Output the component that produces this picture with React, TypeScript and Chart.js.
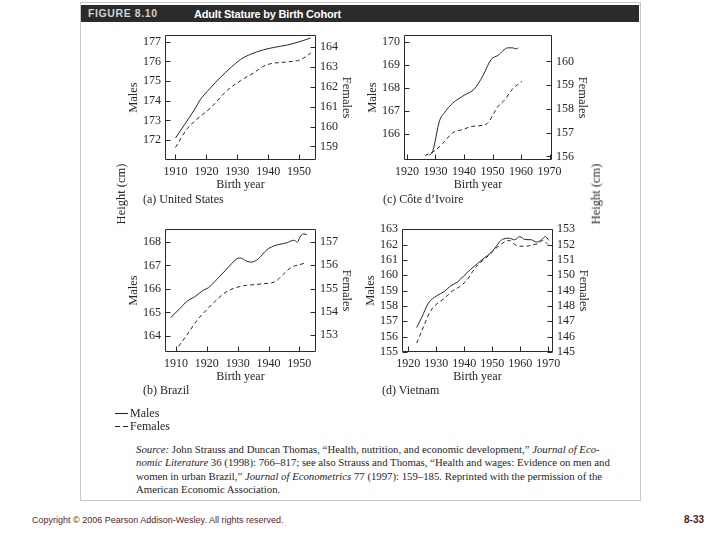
import React, { useEffect, useRef } from 'react';
import { Chart, registerables } from 'chart.js';

Chart.register(...registerables);

// ---------------- Data ----------------
// (a) United States
const US_MALE_YEARS = [1910, 1913, 1916.5, 1918, 1921, 1924.6, 1928, 1931, 1934, 1938.6, 1942, 1946.2, 1950, 1953.8];
const US_MALE_HEIGHT = [172.1, 172.8, 173.64, 174.05, 174.6, 175.2, 175.7, 176.1, 176.35, 176.6, 176.72, 176.84, 177.0, 177.2];
const US_FEMALE_YEARS = [1910, 1913.8, 1917, 1921.4, 1926.8, 1931.1, 1935.4, 1938.6, 1940.8, 1946.2, 1950.5, 1953.8];
const US_FEMALE_HEIGHT = [158.95, 159.89, 160.37, 160.94, 161.82, 162.3, 162.7, 163.03, 163.15, 163.24, 163.35, 163.68];

// (b) Brazil
const BR_MALE_YEARS = [1908.3, 1911.3, 1913.5, 1916.2, 1918.9, 1920.5, 1923.2, 1926.4, 1929.7, 1930.8, 1932.9, 1934.5, 1936.7, 1939.4, 1941.6, 1943.7, 1945.9, 1948.1, 1949.4, 1950.2, 1951.3, 1952.4];
const BR_MALE_HEIGHT = [164.79, 165.17, 165.47, 165.68, 165.95, 166.05, 166.4, 166.84, 167.28, 167.32, 167.18, 167.14, 167.28, 167.66, 167.82, 167.9, 167.96, 168.07, 168.0, 168.2, 168.34, 168.31];
const BR_FEMALE_YEARS = [1910.8, 1913.5, 1916.7, 1920, 1923.2, 1925.9, 1929.1, 1932.9, 1935.6, 1938.3, 1941.0, 1942.6, 1944.8, 1947.5, 1950.2, 1952.4];
const BR_FEMALE_HEIGHT = [152.52, 153.0, 153.62, 154.1, 154.52, 154.83, 155.03, 155.14, 155.17, 155.21, 155.25, 155.34, 155.62, 155.92, 156.03, 156.13];

// (c) Côte d'Ivoire
const CI_MALE_YEARS = [1927.8, 1929.0, 1931.4, 1933.1, 1936.0, 1940.1, 1943.7, 1946.6, 1949.5, 1951.9, 1955.4, 1957.1, 1958.3, 1959.1];
const CI_MALE_HEIGHT = [165.06, 165.23, 166.56, 166.91, 167.33, 167.68, 167.96, 168.52, 169.23, 169.41, 169.74, 169.74, 169.69, 169.74];
const CI_FEMALE_YEARS = [1926.3, 1929.6, 1932.5, 1936.0, 1940.1, 1942.5, 1947.8, 1951.9, 1954.2, 1957.1, 1958.9, 1960.3];
const CI_FEMALE_HEIGHT = [156.04, 156.23, 156.54, 156.99, 157.15, 157.26, 157.36, 158.1, 158.37, 158.85, 159.03, 159.16];

// (d) Vietnam
const VN_MALE_YEARS = [1923.0, 1924.8, 1927.2, 1930.2, 1932.7, 1935.1, 1937.5, 1939.9, 1942.3, 1944.7, 1947.1, 1949.5, 1951.3, 1952.5, 1954.1, 1956.1, 1958.0, 1959.8, 1961.6, 1964.0, 1965.8, 1967.6, 1969.0, 1970.2];
const VN_MALE_HEIGHT = [156.59, 157.25, 158.19, 158.67, 158.92, 159.3, 159.55, 159.97, 160.39, 160.76, 161.12, 161.47, 161.85, 162.16, 162.37, 162.41, 162.31, 162.52, 162.33, 162.31, 162.16, 162.31, 162.52, 162.27];
const VN_FEMALE_YEARS = [1923.0, 1925.4, 1927.8, 1930.2, 1932.7, 1935.7, 1938.7, 1941.1, 1942.9, 1945.3, 1947.7, 1950.1, 1951.9, 1954.3, 1956.1, 1958.0, 1959.8, 1962.2, 1964.6, 1966.4, 1968.2, 1969.8];
const VN_FEMALE_HEIGHT = [145.58, 146.63, 147.63, 148.13, 148.47, 148.97, 149.3, 149.72, 150.22, 150.76, 151.12, 151.53, 151.85, 152.16, 152.27, 152.01, 151.89, 151.89, 151.99, 152.06, 152.27, 152.01];

// Tick labels
const X_TICKS_A = [1910, 1920, 1930, 1940, 1950];
const X_TICKS_C = [1920, 1930, 1940, 1950, 1960, 1970];
const US_MALE_TICKS = [172, 173, 174, 175, 176, 177];
const US_FEMALE_TICKS = [159, 160, 161, 162, 163, 164];
const BR_MALE_TICKS = [164, 165, 166, 167, 168];
const BR_FEMALE_TICKS = [153, 154, 155, 156, 157];
const CI_MALE_TICKS = [166, 167, 168, 169, 170];
const CI_FEMALE_TICKS = [156, 157, 158, 159, 160];
const VN_MALE_TICKS = [155, 156, 157, 158, 159, 160, 161, 162, 163];
const VN_FEMALE_TICKS = [145, 146, 147, 148, 149, 150, 151, 152, 153];

const SERIF = "'Liberation Serif', 'Times New Roman', serif";
const INK = '#262626';

// Margins of the canvas around the plot box
const ML = 52;
const MR = 57;
const MT = 7;
const MB = 34;

type PanelProps = {
  box: { l: number; t: number; r: number; b: number };
  xRange: [number, number];
  xTicks: number[];
  yLRange: [number, number];
  yLTicks: number[];
  yRRange: [number, number];
  yRTicks: number[];
  maleYears: number[];
  maleValues: number[];
  femaleYears: number[];
  femaleValues: number[];
};

const frameAndTicks = {
  id: 'frameAndTicks',
  afterDraw(chart: any) {
    const { ctx, chartArea: a, scales } = chart;
    const L = 5;
    ctx.save();
    ctx.strokeStyle = '#2a2a2a';
    ctx.lineWidth = 1;
    ctx.beginPath();
    const left = Math.round(a.left) + 0.5;
    const right = Math.round(a.right) - 0.5;
    const top = Math.round(a.top) + 0.5;
    const bottom = Math.round(a.bottom) - 0.5;
    ctx.rect(left, top, right - left, bottom - top);
    scales.x.ticks.forEach((t: any) => {
      const p = Math.round(scales.x.getPixelForValue(t.value)) + 0.5;
      ctx.moveTo(p, bottom);
      ctx.lineTo(p, bottom - L);
    });
    scales.yL.ticks.forEach((t: any) => {
      const p = Math.round(scales.yL.getPixelForValue(t.value)) + 0.5;
      ctx.moveTo(left, p);
      ctx.lineTo(left + L, p);
    });
    scales.yR.ticks.forEach((t: any) => {
      const p = Math.round(scales.yR.getPixelForValue(t.value)) + 0.5;
      ctx.moveTo(right, p);
      ctx.lineTo(right - L, p);
    });
    ctx.stroke();
    ctx.restore();
  },
};

function Panel(props: PanelProps) {
  const ref = useRef<HTMLCanvasElement | null>(null);
  const { box } = props;
  const width = box.r - box.l + ML + MR;
  const height = box.b - box.t + MT + MB;

  useEffect(() => {
    if (!ref.current) return;
    const font = { family: SERIF, size: 12 };
    const setTicks = (vals: number[]) => (s: any) => {
      s.ticks = vals.map((v) => ({ value: v }));
    };
    const chart = new Chart(ref.current, {
      type: 'line',
      data: {
        datasets: [
          {
            label: 'Males',
            data: props.maleYears.map((x, i) => ({ x, y: props.maleValues[i] })),
            yAxisID: 'yL',
            borderColor: '#262626',
            borderWidth: 1,
            pointRadius: 0,
            cubicInterpolationMode: 'monotone',
            fill: false,
          },
          {
            label: 'Females',
            data: props.femaleYears.map((x, i) => ({ x, y: props.femaleValues[i] })),
            yAxisID: 'yR',
            borderColor: '#262626',
            borderWidth: 1,
            borderDash: [4, 3],
            pointRadius: 0,
            cubicInterpolationMode: 'monotone',
            fill: false,
          },
        ],
      },
      options: {
        animation: false,
        responsive: false,
        devicePixelRatio: 1,
        layout: { padding: { top: MT, left: 0, right: 0, bottom: 0 } },
        plugins: { legend: { display: false }, tooltip: { enabled: false } },
        scales: {
          x: {
            type: 'linear',
            min: props.xRange[0],
            max: props.xRange[1],
            afterBuildTicks: setTicks(props.xTicks),
            afterFit: (s: any) => {
              s.height = MB;
            },
            grid: { display: false, drawTicks: false },
            border: { display: false },
            ticks: {
              padding: 5,
              font,
              color: INK,
              maxRotation: 0,
              autoSkip: false,
              callback: (v: any) => String(v),
            },
            title: {
              display: true,
              text: 'Birth year',
              font,
              color: INK,
              padding: { top: 0, bottom: 1.8 },
            },
          },
          yL: {
            type: 'linear',
            position: 'left',
            min: props.yLRange[0],
            max: props.yLRange[1],
            afterBuildTicks: setTicks(props.yLTicks),
            afterFit: (s: any) => {
              s.width = ML;
            },
            grid: { display: false, drawTicks: false },
            border: { display: false },
            ticks: { padding: 4, font, color: INK, autoSkip: false, callback: (v: any) => String(v) },
            title: {
              display: true,
              text: 'Males',
              font: { family: SERIF, size: 12.5 },
              color: INK,
              padding: { top: 13, bottom: 0 },
            },
          },
          yR: {
            type: 'linear',
            position: 'right',
            min: props.yRRange[0],
            max: props.yRRange[1],
            afterBuildTicks: setTicks(props.yRTicks),
            afterFit: (s: any) => {
              s.width = MR;
            },
            grid: { display: false, drawTicks: false },
            border: { display: false },
            ticks: { padding: 4, font, color: INK, autoSkip: false, callback: (v: any) => String(v) },
            title: {
              display: true,
              text: 'Females',
              font: { family: SERIF, size: 12.5 },
              color: INK,
              padding: { top: 19.5, bottom: 0 },
            },
          },
        },
      } as any,
      plugins: [frameAndTicks],
    } as any);
    return () => chart.destroy();
  }, []);

  return (
    <canvas
      ref={ref}
      width={width}
      height={height}
      style={{
        position: 'absolute',
        left: box.l - ML,
        top: box.t - MT,
        width,
        height,
      }}
    />
  );
}

const textBase: React.CSSProperties = {
  position: 'absolute',
  fontFamily: SERIF,
  color: INK,
  whiteSpace: 'nowrap',
  lineHeight: 1,
};

function Caption({ x, y, text }: { x: number; y: number; text: string }) {
  return <div style={{ ...textBase, left: x, top: y - 6, fontSize: 12 }}>{text}</div>;
}

function VText({ cx, cy, text }: { cx: number; cy: number; text: string }) {
  return (
    <div
      style={{
        ...textBase,
        left: cx,
        top: cy,
        fontSize: 12.5,
        transform: 'translate(-50%, -50%) rotate(-90deg)',
      }}
    >
      {text}
    </div>
  );
}

export default function App() {
  return (
    <div
      style={{
        position: 'fixed',
        left: 0,
        top: 0,
        width: 720,
        height: 540,
        background: '#ffffff',
        overflow: 'hidden',
      }}
    >
      {/* figure frame */}
      <div
        style={{
          position: 'absolute',
          left: 80,
          top: 2,
          width: 559,
          height: 497,
          border: '1px solid #c8c8c8',
        }}
      />
      {/* header bar */}
      <div
        style={{
          position: 'absolute',
          left: 81,
          top: 5,
          width: 558,
          height: 17,
          background: '#2b2b2b',
        }}
      />
      <div
        style={{
          position: 'absolute',
          left: 88,
          top: 7,
          fontFamily: "'Liberation Sans', Arial, sans-serif",
          fontWeight: 700,
          fontSize: 10.5,
          letterSpacing: 0.6,
          color: '#d0d0d0',
          whiteSpace: 'nowrap',
          lineHeight: '13px',
        }}
      >
        FIGURE 8.10
      </div>
      <div
        style={{
          position: 'absolute',
          left: 194,
          top: 6.5,
          fontFamily: "'Liberation Sans', Arial, sans-serif",
          fontWeight: 700,
          fontSize: 11,
          letterSpacing: -0.2,
          color: '#ffffff',
          whiteSpace: 'nowrap',
          lineHeight: '14px',
        }}
      >
        Adult Stature by Birth Cohort
      </div>

      <Panel
        box={{ l: 165, t: 31, r: 316, b: 160 }}
        xRange={[1906.6, 1955.5]}
        xTicks={X_TICKS_A}
        yLRange={[170.98, 177.34]}
        yLTicks={US_MALE_TICKS}
        yRRange={[158.32, 164.58]}
        yRTicks={US_FEMALE_TICKS}
        maleYears={US_MALE_YEARS}
        maleValues={US_MALE_HEIGHT}
        femaleYears={US_FEMALE_YEARS}
        femaleValues={US_FEMALE_HEIGHT}
      />
      <Panel
        box={{ l: 404, t: 31, r: 552, b: 160 }}
        xRange={[1918.95, 1970.87]}
        xTicks={X_TICKS_C}
        yLRange={[164.86, 170.29]}
        yLTicks={CI_MALE_TICKS}
        yRRange={[155.85, 161.1]}
        yRTicks={CI_FEMALE_TICKS}
        maleYears={CI_MALE_YEARS}
        maleValues={CI_MALE_HEIGHT}
        femaleYears={CI_FEMALE_YEARS}
        femaleValues={CI_FEMALE_HEIGHT}
      />
      <Panel
        box={{ l: 165, t: 225, r: 316, b: 352 }}
        xRange={[1906.43, 1955.4]}
        xTicks={X_TICKS_A}
        yLRange={[163.32, 168.54]}
        yLTicks={BR_MALE_TICKS}
        yRRange={[152.28, 157.55]}
        yRTicks={BR_FEMALE_TICKS}
        maleYears={BR_MALE_YEARS}
        maleValues={BR_MALE_HEIGHT}
        femaleYears={BR_FEMALE_YEARS}
        femaleValues={BR_FEMALE_HEIGHT}
      />
      <Panel
        box={{ l: 402, t: 225, r: 553, b: 352 }}
        xRange={[1917.75, 1971.7]}
        xTicks={X_TICKS_C}
        yLRange={[155, 163]}
        yLTicks={VN_MALE_TICKS}
        yRRange={[145, 153]}
        yRTicks={VN_FEMALE_TICKS}
        maleYears={VN_MALE_YEARS}
        maleValues={VN_MALE_HEIGHT}
        femaleYears={VN_FEMALE_YEARS}
        femaleValues={VN_FEMALE_HEIGHT}
      />

      <Caption x={143} y={199} text="(a)  United States" />
      <Caption x={383} y={199} text="(c)  Côte d’Ivoire" />
      <Caption x={143} y={390} text="(b) Brazil" />
      <Caption x={382} y={390} text="(d)  Vietnam" />

      <VText cx={121} cy={194} text="Height (cm)" />
      <VText cx={596} cy={194} text="Height (cm)" />

      {/* legend */}
      <svg
        width={16}
        height={30}
        style={{ position: 'absolute', left: 114, top: 405 }}
      >
        <line x1={1} y1={8.5} x2={14} y2={8.5} stroke={INK} strokeWidth={1.1} />
        <line x1={1} y1={21.5} x2={14} y2={21.5} stroke={INK} strokeWidth={1} strokeDasharray="5 3" />
      </svg>
      <div style={{ ...textBase, left: 130, top: 407, fontSize: 12 }}>Males</div>
      <div style={{ ...textBase, left: 130, top: 420, fontSize: 12 }}>Females</div>

      {/* source */}
      <div
        style={{
          position: 'absolute',
          left: 136,
          top: 443,
          fontFamily: SERIF,
          fontSize: 10.75,
          lineHeight: '13.4px',
          color: INK,
          whiteSpace: 'nowrap',
        }}
      >
        <div>
          <i>Source:</i> John Strauss and Duncan Thomas, “Health, nutrition, and economic development,” <i>Journal of Eco-</i>
        </div>
        <div>
          <i>nomic Literature</i> 36 (1998): 766–817; see also Strauss and Thomas, “Health and wages: Evidence on men and
        </div>
        <div>
          women in urban Brazil,” <i>Journal of Econometrics</i> 77 (1997): 159–185. Reprinted with the permission of the
        </div>
        <div>American Economic Association.</div>
      </div>

      {/* footer */}
      <div
        style={{
          position: 'absolute',
          left: 32,
          top: 514,
          fontFamily: "'Liberation Sans', Arial, sans-serif",
          fontSize: 9,
          color: '#5a2424',
          whiteSpace: 'nowrap',
          lineHeight: '12px',
        }}
      >
        Copyright © 2006 Pearson Addison-Wesley. All rights reserved.
      </div>
      <div
        style={{
          position: 'absolute',
          left: 684,
          top: 513,
          fontFamily: "'Liberation Sans', Arial, sans-serif",
          fontSize: 10,
          fontWeight: 700,
          color: '#4a1c1c',
          whiteSpace: 'nowrap',
          lineHeight: '13px',
        }}
      >
        8-33
      </div>
    </div>
  );
}
